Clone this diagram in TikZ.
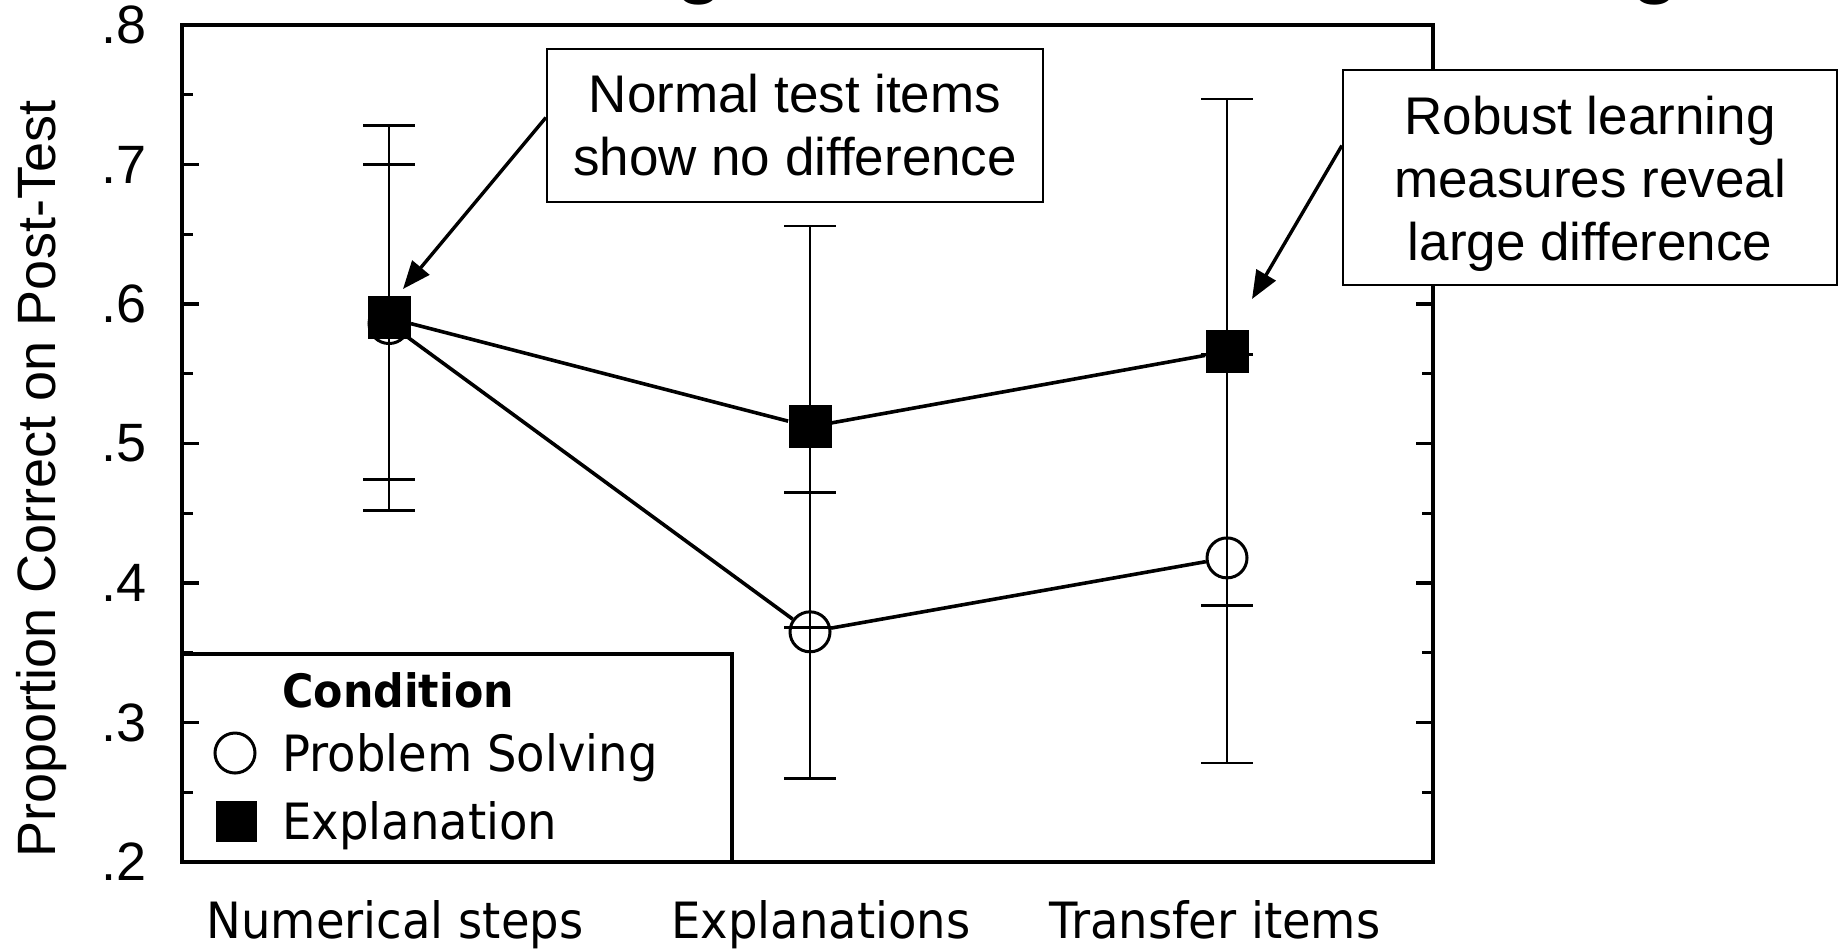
\documentclass[tikz,border=0pt]{standalone}
\usepackage{fontspec}
\usepackage{tikz}
\usetikzlibrary{arrows.meta, positioning}
\setmainfont{Liberation Sans}
\newfontfamily\labelfont[FakeStretch=0.93]{DejaVu Sans}

\begin{document}
\begin{tikzpicture}[
			x=0.5pt, y=-0.5pt,
			frame/.style={line width=1.7pt},
			tickmark/.style={line width=1.7pt},
			ticklabel/.style={anchor=east, inner sep=0pt, font=\fontsize{27}{30}\selectfont},
			catlabel/.style={anchor=base, inner sep=0pt, font=\labelfont\fontsize{25}{30}\selectfont},
			leglabel/.style={anchor=base west, inner sep=0pt, font=\labelfont\fontsize{25}{30}\selectfont},
			errbar/.style={line width=1.3pt},
			dataline/.style={line width=1.8pt},
			psmark/.style={circle, draw, fill=white, line width=1.5pt, minimum size=20pt, inner sep=0pt},
			expmark/.style={rectangle, fill=black, minimum size=21.5pt, inner sep=0pt},
			note/.style={draw, fill=white, line width=1.1pt, align=center, font=\fontsize{26.5}{31.5}\selectfont},
			arrow/.style={-{Triangle[length=14pt, width=11pt]}, line width=1.7pt}
			]
			
			\useasboundingbox (0,0) rectangle (1845,949);
			
			% cut-off title
			\node[anchor=base, inner sep=0pt, font=\fontsize{45}{50}\selectfont] (titleg1) at (700,-14) {g};
			\node[anchor=base, inner sep=0pt, font=\fontsize{45}{50}\selectfont] (titleg2) at (1656,-14) {g};
			
			% Legend
			\draw[frame, fill=white] (182,654) rectangle (732,862);
			\node[leglabel, font=\labelfont\fontsize{23}{28}\selectfont\bfseries] (legtitle) at (282,707) {Condition};
			\node[psmark] (legps) at (235,753) {};
			\node[leglabel] (legpslabel) at (282,771) {Problem Solving};
			\node[expmark, minimum size=20.5pt] (legexp) at (236,821) {};
			\node[leglabel] (legexplabel) at (282,839) {Explanation};
			
			% Axis title and categories
			\node[rotate=90, anchor=base, inner sep=0pt, font=\fontsize{27}{30}\selectfont] (ytitle) at (55,479) {Proportion Correct on Post-Test};
			\node[catlabel] (catnum) at (395,938) {Numerical steps};
			\node[catlabel] (catexp) at (821,938) {Explanations};
			\node[catlabel] (cattr) at (1215,938) {Transfer items};
			
			\begin{scope}[shift={(0,1141)}, y=697.5pt]
				% Frame and ticks
				\draw[frame] (182,0.8) rectangle (1433,0.2);
				\foreach \v/\t [count=\i] in {0.2/.2, 0.3/.3, 0.4/.4, 0.5/.5, 0.6/.6, 0.7/.7, 0.8/.8} {
					\draw[tickmark] (182,\v) -- ++(17,0);
					\draw[tickmark] (1433,\v) -- ++(-17,0);
					\node[ticklabel] (ytick\i) at (147,\v) {\t};
				}
				\foreach \v in {0.25, 0.35, 0.45, 0.55, 0.65, 0.75} {
					\draw[tickmark] (182,\v) -- ++(11,0);
					\draw[tickmark] (1433,\v) -- ++(-11,0);
				}
				
				% Problem solving
				\node[psmark] (ps1) at (389,0.586) {};
				\node[psmark] (ps2) at (810,0.365) {};
				\node[psmark] (ps3) at (1227,0.418) {};
				\draw[dataline] (ps1) -- (ps2) -- (ps3);
				
				% Error bars
				\foreach \x/\lo/\hi in {389/0.452/0.728, 389/0.474/0.700, 810/0.368/0.656,
					810/0.260/0.465, 1227/0.384/0.747, 1227/0.271/0.564} {
					\draw[errbar] (\x,\lo) -- (\x,\hi);
					\draw[errbar] (\x-26,\lo) -- (\x+26,\lo) (\x-26,\hi) -- (\x+26,\hi);
				}
				
				% Explanation
				\node[expmark] (exp1) at (389,0.590) {};
				\node[expmark] (exp2) at (810,0.512) {};
				\node[expmark] (exp3) at (1227,0.566) {};
				\draw[dataline] (exp1) -- (exp2) -- (exp3);
			\end{scope}
			
			% Notes
			\node[note, minimum width=248pt, minimum height=76.5pt] (note1) at (795,125.5) {Normal test items\\show no difference};
			\node[note, minimum width=247pt, minimum height=107.5pt] (note2) at (1590,177.5) {\rule{0pt}{25.5pt}Robust learning\\measures reveal\\large difference};
			
			% Arrows
			\coordinate (tip1) at (403,289);
			\coordinate (tip2) at (1252,299);
			\draw[arrow] ([yshift=4pt]note1.west) -- (tip1);
			\draw[arrow] ([yshift=16pt]note2.west) -- (tip2);
			
		\end{tikzpicture}
\end{document}
